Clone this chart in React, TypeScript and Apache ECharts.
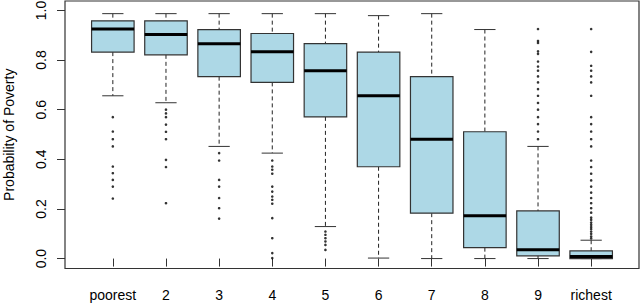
import React, { useEffect, useRef } from "react";
import * as echarts from "echarts";

const categories = ["poorest", "2", "3", "4", "5", "6", "7", "8", "9", "richest"];
const positions = [1, 2, 3, 4, 5, 6, 7, 8, 9, 10];
const yTicks = [0, 0.2, 0.4, 0.6, 0.8, 1.0];

const whiskerLow = [0.656, 0.628, 0.452, 0.425, 0.129, 0.002, 0.0, 0.0, 0.0, 0.0];
const q1 = [0.832, 0.821, 0.733, 0.71, 0.571, 0.37, 0.183, 0.044, 0.011, 0.0];
const median = [0.925, 0.903, 0.866, 0.833, 0.757, 0.656, 0.481, 0.173, 0.036, 0.008];
const q3 = [0.958, 0.958, 0.923, 0.907, 0.866, 0.832, 0.733, 0.511, 0.192, 0.031];
const whiskerHigh = [0.987, 0.987, 0.987, 0.987, 0.987, 0.979, 0.987, 0.923, 0.452, 0.074];

const outliersPoorest = [0.57, 0.512, 0.481, 0.452, 0.371, 0.344, 0.317, 0.29, 0.242];
const outliers2 = [0.6, 0.585, 0.57, 0.54, 0.511, 0.481, 0.398, 0.369, 0.223];
const outliers3 = [0.425, 0.395, 0.317, 0.29, 0.244, 0.203, 0.161];
const outliers4 = [0.395, 0.371, 0.358, 0.342, 0.29, 0.27, 0.25, 0.237, 0.221, 0.163, 0.082, 0.022, 0.002];
const outliers5 = [0.109, 0.096, 0.082, 0.069, 0.055, 0.035];
const outliers6: number[] = [];
const outliers7: number[] = [];
const outliers8: number[] = [];
const outliers9 = [
  0.925, 0.877, 0.869, 0.835, 0.825, 0.794, 0.774, 0.757, 0.734, 0.71, 0.683, 0.656, 0.627, 0.6, 0.57,
  0.542, 0.512, 0.481,
];
const outliersRichest = [
  0.925, 0.833, 0.777, 0.757, 0.734, 0.71, 0.656, 0.57, 0.542, 0.512, 0.481, 0.452, 0.395, 0.369, 0.342,
  0.315, 0.29, 0.266, 0.244, 0.223, 0.203, 0.185, 0.165, 0.156, 0.145, 0.136, 0.127, 0.119, 0.109, 0.1,
  0.089, 0.081,
];
const outliers = [
  outliersPoorest, outliers2, outliers3, outliers4, outliers5,
  outliers6, outliers7, outliers8, outliers9, outliersRichest,
];

const FONT = "Liberation Sans, Arial, Helvetica, sans-serif";
const EDGE = "#333";

export default function App() {
  const ref = useRef<HTMLDivElement>(null);
  useEffect(() => {
    const chart = echarts.init(ref.current!, null, { renderer: "svg" });
    const boxData = categories.map((_, i) => [
      positions[i], whiskerLow[i], q1[i], median[i], q3[i], whiskerHigh[i],
    ]);
    const pointData: number[][] = [];
    outliers.forEach((arr, i) => arr.forEach((v) => pointData.push([positions[i], v])));

    const renderItem = (params: any, api: any) => {
      const x = api.value(0);
      const lo = api.value(1);
      const a = api.value(2);
      const md = api.value(3);
      const b = api.value(4);
      const hi = api.value(5);
      const half = 0.4;
      const cap = 0.2;
      const cx = api.coord([x, 0])[0];
      const xl = api.coord([x - half, 0])[0];
      const xr = api.coord([x + half, 0])[0];
      const cl = api.coord([x - cap, 0])[0];
      const cr = api.coord([x + cap, 0])[0];
      const yLo = api.coord([x, lo])[1];
      const yA = api.coord([x, a])[1];
      const yM = api.coord([x, md])[1];
      const yB = api.coord([x, b])[1];
      const yHi = api.coord([x, hi])[1];
      const dash = { stroke: "#222", lineWidth: 1, lineDash: [4, 3] };
      const solid = { stroke: EDGE, lineWidth: 1 };
      return {
        type: "group",
        children: [
          { type: "line", shape: { x1: cx, y1: yHi, x2: cx, y2: yB }, style: dash },
          { type: "line", shape: { x1: cx, y1: yA, x2: cx, y2: yLo }, style: dash },
          { type: "line", shape: { x1: cl, y1: yHi, x2: cr, y2: yHi }, style: solid },
          { type: "line", shape: { x1: cl, y1: yLo, x2: cr, y2: yLo }, style: solid },
          {
            type: "rect",
            shape: { x: xl, y: yB, width: xr - xl, height: yA - yB },
            style: { fill: "#ADD8E6", stroke: EDGE, lineWidth: 1.2 },
          },
          { type: "line", shape: { x1: xl, y1: yM, x2: xr, y2: yM }, style: { stroke: "#000", lineWidth: 3 } },
        ],
      };
    };

    chart.setOption({
      animation: false,
      grid: {
        left: 65,
        top: 1,
        width: 574,
        height: 267.5,
        containLabel: false,
        outerBoundsMode: "none",
        show: true,
        borderColor: EDGE,
        borderWidth: 1.2,
        backgroundColor: "transparent",
      },
      xAxis: {
        type: "value",
        min: 0.1,
        max: 10.9,
        axisLine: { show: false },
        splitLine: { show: false },
        axisTick: { show: true, length: 8, customValues: positions, lineStyle: { color: EDGE, width: 1 } },
        axisLabel: {
          customValues: positions,
          formatter: (v: number) => categories[Math.round(v) - 1],
          margin: 19,
          fontSize: 14,
          color: "#000",
          fontFamily: FONT,
        },
      },
      yAxis: {
        type: "value",
        min: -0.04,
        max: 1.038,
        axisLine: { show: false },
        splitLine: { show: false },
        axisTick: { show: true, length: 8, customValues: yTicks, lineStyle: { color: EDGE, width: 1 } },
        axisLabel: {
          customValues: yTicks,
          formatter: (v: number) => v.toFixed(1),
          rotate: 90,
          margin: 17,
          fontSize: 14,
          color: "#000",
          fontFamily: FONT,
        },
        name: "Probability of Poverty",
        nameLocation: "middle",
        nameGap: 49,
        nameRotate: 90,
        nameTextStyle: { fontSize: 14, color: "#000", fontFamily: FONT },
      },
      series: [
        {
          type: "custom",
          renderItem,
          data: boxData,
          encode: { x: 0, y: [1, 2, 3, 4, 5] },
          silent: true,
        },
        {
          type: "scatter",
          data: pointData,
          symbol: "circle",
          symbolSize: 2.6,
          itemStyle: { color: "#000" },
          silent: true,
        },
      ],
    });
    return () => chart.dispose();
  }, []);
  return (
    <div
      ref={ref}
      style={{ position: "absolute", left: 0, top: 0, width: 640, height: 303, background: "#fff" }}
    />
  );
}
